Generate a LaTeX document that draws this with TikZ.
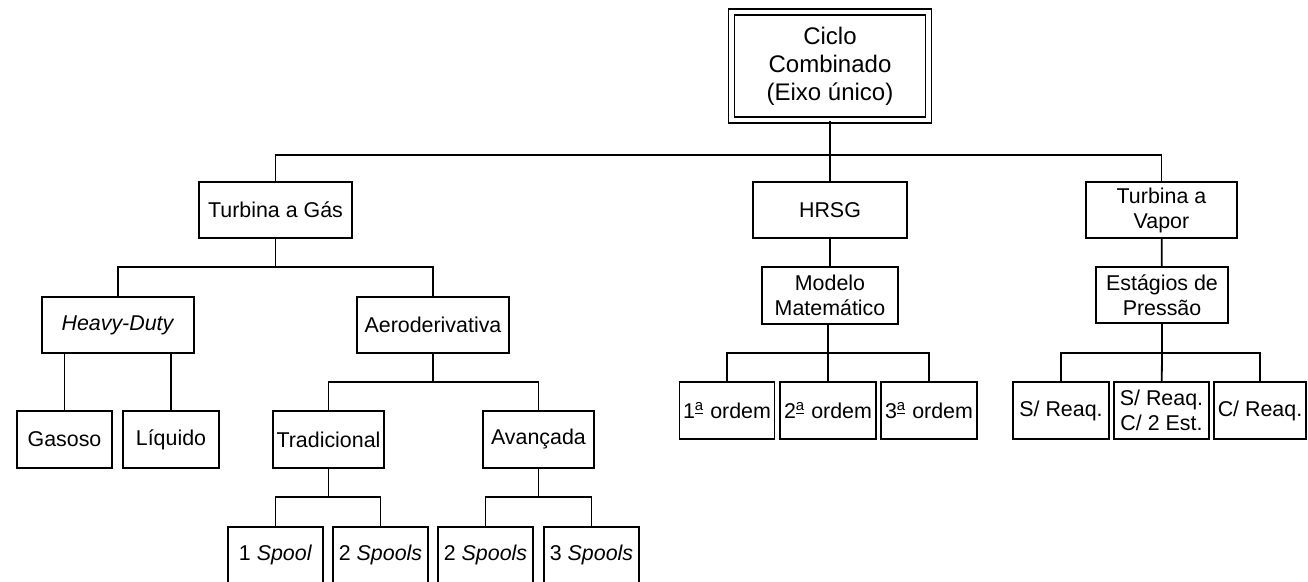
\documentclass[tikz,border=0pt]{standalone}
\usepackage{fontspec}
\setmainfont{Liberation Sans}
\usepackage{tikz}
\usetikzlibrary{positioning}
\newcommand{\ordsup}{\textsuperscript{\underline{a}}}

\begin{document}
\begin{tikzpicture}[
  x=0.5pt, y=-0.5pt,
  font=\fontsize{10.7}{12.5}\selectfont,
  line width=0.9pt,
  box/.style={draw, align=center, inner sep=1pt, minimum height=28pt},
  rootbox/.style={draw, double, double distance=2.3pt, line width=0.8pt,
                  align=center, inner sep=1pt, minimum width=98.5pt,
                  minimum height=54pt, font=\fontsize{12}{14}\selectfont},
  leaf/.style={box, minimum height=28.5pt},
  link/.style={line width=0.9pt}
]
\useasboundingbox (0,0) rectangle (1308,582);

% Root
\node[rootbox] (ciclo) at (830,66) {Ciclo\\ Combinado\\ (Eixo único)};

% First level
\node[box, minimum width=76.5pt] (tg) at (275.5,210) {Turbina a Gás};
\node[box, minimum width=77pt] (hrsg) at (830,210) {HRSG};
\node[box, minimum width=75.5pt] (tv) at (1161.5,210) {Turbina a\\ Vapor};

% Gas turbine branch
\node[box, minimum width=76pt] (heavy) at (118,325) {\textit{Heavy-Duty}};
\node[box, minimum width=76pt] (aero) at (433,325) {Aeroderivativa};
\node[leaf, minimum width=47.5pt] (gasoso) at (64.5,439.5) {Gasoso};
\node[leaf, minimum width=48pt] (liquido) at (171,439.5) {Líquido};
\node[leaf, minimum width=55.5pt] (trad) at (328.5,439.5) {Tradicional};
\node[leaf, minimum width=55.5pt] (avanc) at (538.5,439.5) {Avançada};
\node[box, minimum width=47.5pt] (tspA) at (275.5,555) {1 \textit{Spool}};
\node[box, minimum width=47.5pt] (tspB) at (380.5,555) {2 \textit{Spools}};
\node[box, minimum width=47.5pt] (aspA) at (485.5,555) {2 \textit{Spools}};
\node[box, minimum width=47.5pt] (aspB) at (591.5,555) {3 \textit{Spools}};

% HRSG branch
\node[leaf, minimum width=68pt] (modelo) at (830,295.5) {Modelo\\ Matemático};
\node[leaf, minimum width=47.5pt] (ord1) at (727,410.5) {1\ordsup\ ordem};
\node[leaf, minimum width=48pt] (ord2) at (828,410.5) {2\ordsup\ ordem};
\node[leaf, minimum width=48pt] (ord3) at (929,410.5) {3\ordsup\ ordem};

% Steam turbine branch
\node[box, minimum width=66pt] (estag) at (1162,295) {Estágios de\\ Pressão};
\node[leaf, minimum width=48pt] (reaqA) at (1061,410.5) {S/ Reaq.};
\node[leaf, minimum width=47.5pt] (reaqB) at (1161.5,410.5) {S/ Reaq.\\ C/ 2 Est.};
\node[leaf, minimum width=46pt] (reaqC) at (1260,410.5) {C/ Reaq.};

% Junctions
\coordinate (j0) at (830,155);
\coordinate (j1) at (275.5,267);
\coordinate (j2) at (433,382);
\coordinate (j3) at (328.5,497);
\coordinate (j4) at (538.5,497);
\coordinate (j5) at (828,353);
\coordinate (j6) at (1162,353);

% Edges: root
\draw[link] (ciclo) -- (j0) -- (hrsg);
\draw[link] (tg) |- (j0) -| (tv);

% Edges: gas turbine
\draw[link] (tg) -- (j1);
\draw[link] (heavy) |- (j1) -| (aero);
\draw[link] (gasoso) -- (gasoso |- heavy.south);
\draw[link] (liquido) -- (liquido |- heavy.south);
\draw[link] (aero) -- (j2);
\draw[link] (trad) |- (j2) -| (avanc);
\draw[link] (trad) -- (j3);
\draw[link] (tspA) |- (j3) -| (tspB);
\draw[link] (avanc) -- (j4);
\draw[link] (aspA) |- (j4) -| (aspB);

% Edges: HRSG
\draw[link] (hrsg) -- (modelo.north -| hrsg);
\draw[link] (modelo.south -| j5) -- (j5) -- (ord2);
\draw[link] (ord1) |- (j5) -| (ord3);

% Edges: steam turbine
\draw[link] (tv) -- (estag);
\draw[link] (estag) -- (j6) -- (reaqB);
\draw[link] (reaqA) |- (j6) -| (reaqC);

\end{tikzpicture}
\end{document}
